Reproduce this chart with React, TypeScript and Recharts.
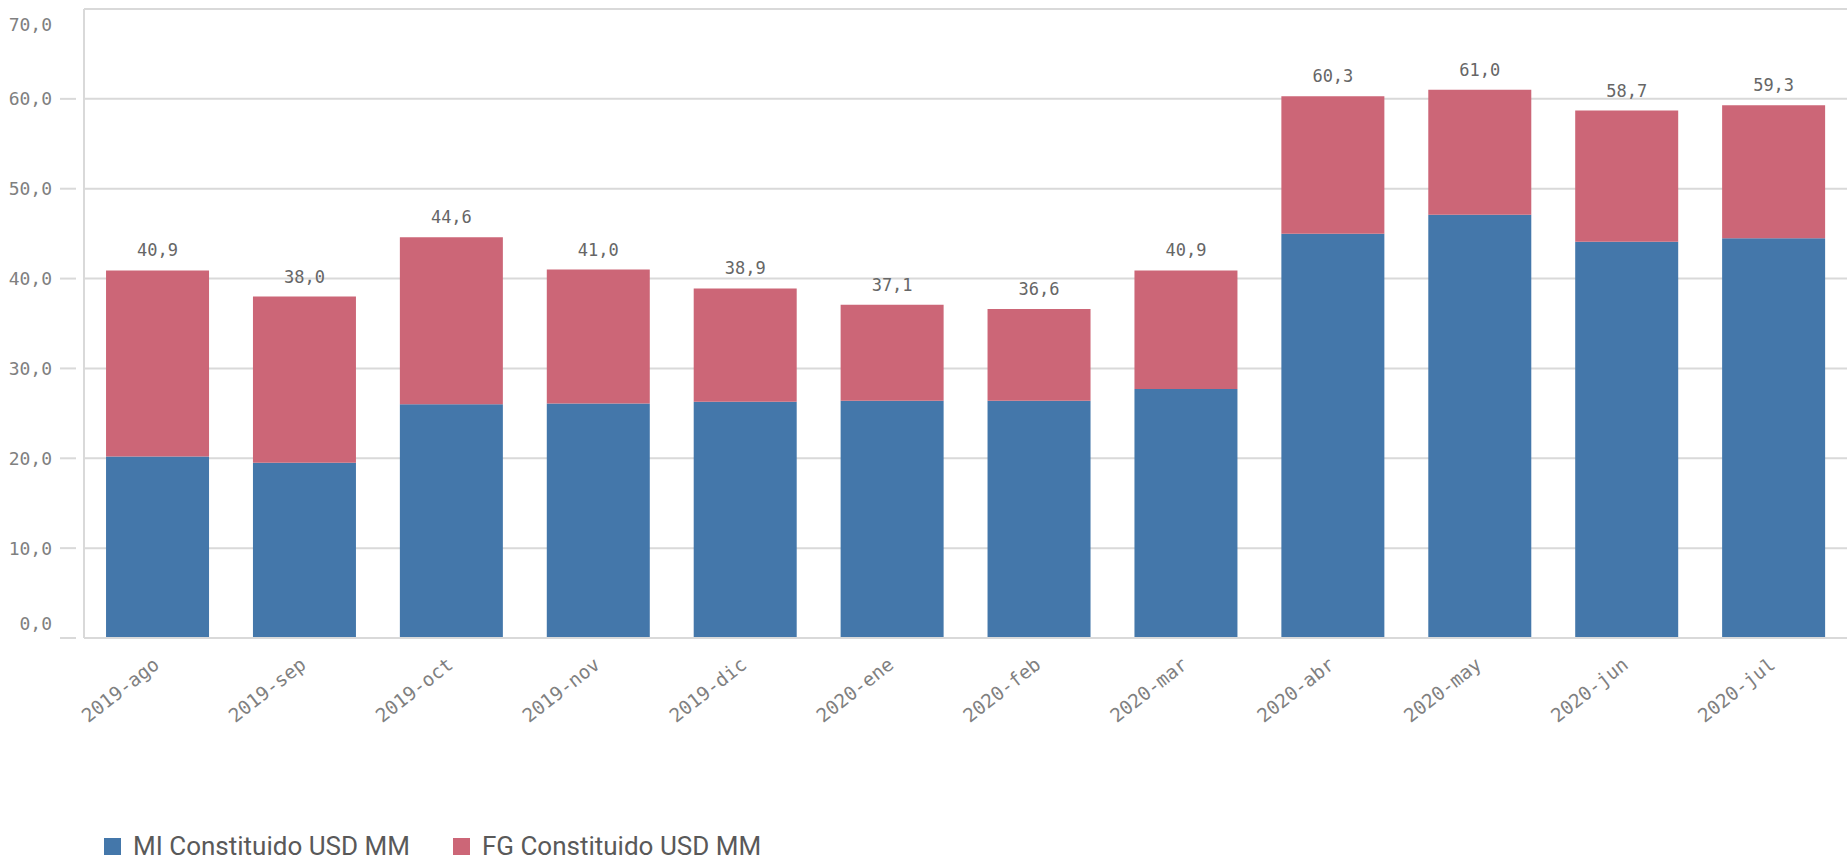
import React from 'react';
import { BarChart, Bar, XAxis, YAxis, CartesianGrid, LabelList } from 'recharts';

const months = [
  '2019-ago', '2019-sep', '2019-oct', '2019-nov', '2019-dic', '2020-ene',
  '2020-feb', '2020-mar', '2020-abr', '2020-may', '2020-jun', '2020-jul',
];
const totals = [40.9, 38.0, 44.6, 41.0, 38.9, 37.1, 36.6, 40.9, 60.3, 61.0, 58.7, 59.3];
const miValues = [20.2, 19.5, 26.0, 26.1, 26.3, 26.4, 26.4, 27.7, 45.0, 47.1, 44.1, 44.5];
const fgValues = [20.7, 18.5, 18.6, 14.9, 12.6, 10.7, 10.2, 13.2, 15.3, 13.9, 14.6, 14.8];
const yTicks = [0, 10, 20, 30, 40, 50, 60, 70];

const BLUE = '#4477aa';
const RED = '#cc6677';
const GRID = '#d9d9d9';
const MONO = '"DejaVu Sans Mono", monospace';

const data = months.map((m, i) => ({
  month: m,
  mi: miValues[i],
  fg: fgValues[i],
  total: totals[i],
}));

const fmt = (v: number) => v.toFixed(1).replace('.', ',');

const YTick = (props: any) => {
  const { x, y, payload } = props;
  const v = payload.value as number;
  const dy = v === 70 ? 16 : v === 0 ? -14 : 0;
  return (
    <g>
      {v !== 70 && <line x1={x - 16} x2={x} y1={y} y2={y} stroke={GRID} strokeWidth={2} />}
      <text
        x={x - 24}
        y={y + dy}
        dy="0.36em"
        textAnchor="end"
        fontFamily={MONO}
        fontSize={18}
        fill="#808080"
      >
        {fmt(v)}
      </text>
    </g>
  );
};

const XTick = (props: any) => {
  const { x, y, payload } = props;
  const ax = x + 3;
  const ay = y + 21;
  return (
    <text
      x={ax}
      y={ay}
      textAnchor="end"
      fontFamily={MONO}
      fontSize={19}
      fill="#808080"
      transform={`rotate(-38, ${ax}, ${ay})`}
    >
      {payload.value}
    </text>
  );
};

const TotalLabel = (props: any) => {
  const { x, y, width, index } = props;
  return (
    <text
      x={x + width / 2}
      y={y - 14}
      textAnchor="middle"
      fontFamily={MONO}
      fontSize={17}
      fill="#666666"
    >
      {fmt(totals[index])}
    </text>
  );
};

const legendItems = [
  { name: 'MI Constituido USD MM', color: BLUE },
  { name: 'FG Constituido USD MM', color: RED },
];

export default function App() {
  return (
    <div style={{ position: 'absolute', left: 0, top: 0, width: 1847, height: 862, background: '#fff' }}>
      <BarChart
        width={1847}
        height={862}
        data={data}
        margin={{ top: 9, right: 0, left: 0, bottom: 0 }}
        barCategoryGap="15%"
      >
        <CartesianGrid vertical={false} stroke={GRID} strokeWidth={2} />
        <XAxis
          dataKey="month"
          height={224}
          interval={0}
          tickLine={false}
          axisLine={{ stroke: GRID, strokeWidth: 2 }}
          tick={<XTick />}
        />
        <YAxis
          width={84}
          domain={[0, 70]}
          ticks={yTicks}
          tickLine={false}
          axisLine={{ stroke: GRID, strokeWidth: 2 }}
          tick={<YTick />}
        />
        <Bar dataKey="mi" stackId="a" fill={BLUE} isAnimationActive={false} />
        <Bar dataKey="fg" stackId="a" fill={RED} isAnimationActive={false}>
          <LabelList dataKey="total" content={<TotalLabel />} />
        </Bar>
      </BarChart>
      <div
        style={{
          position: 'absolute',
          left: 104,
          top: 831,
          display: 'flex',
          alignItems: 'center',
          fontFamily: 'Roboto, sans-serif',
          fontSize: 26,
          color: '#595959',
        }}
      >
        {legendItems.map((it) => (
          <div key={it.name} style={{ display: 'flex', alignItems: 'center', marginRight: 43 }}>
            <span style={{ width: 17, height: 17, background: it.color, marginRight: 12, display: 'inline-block' }} />
            <span>{it.name}</span>
          </div>
        ))}
      </div>
    </div>
  );
}
